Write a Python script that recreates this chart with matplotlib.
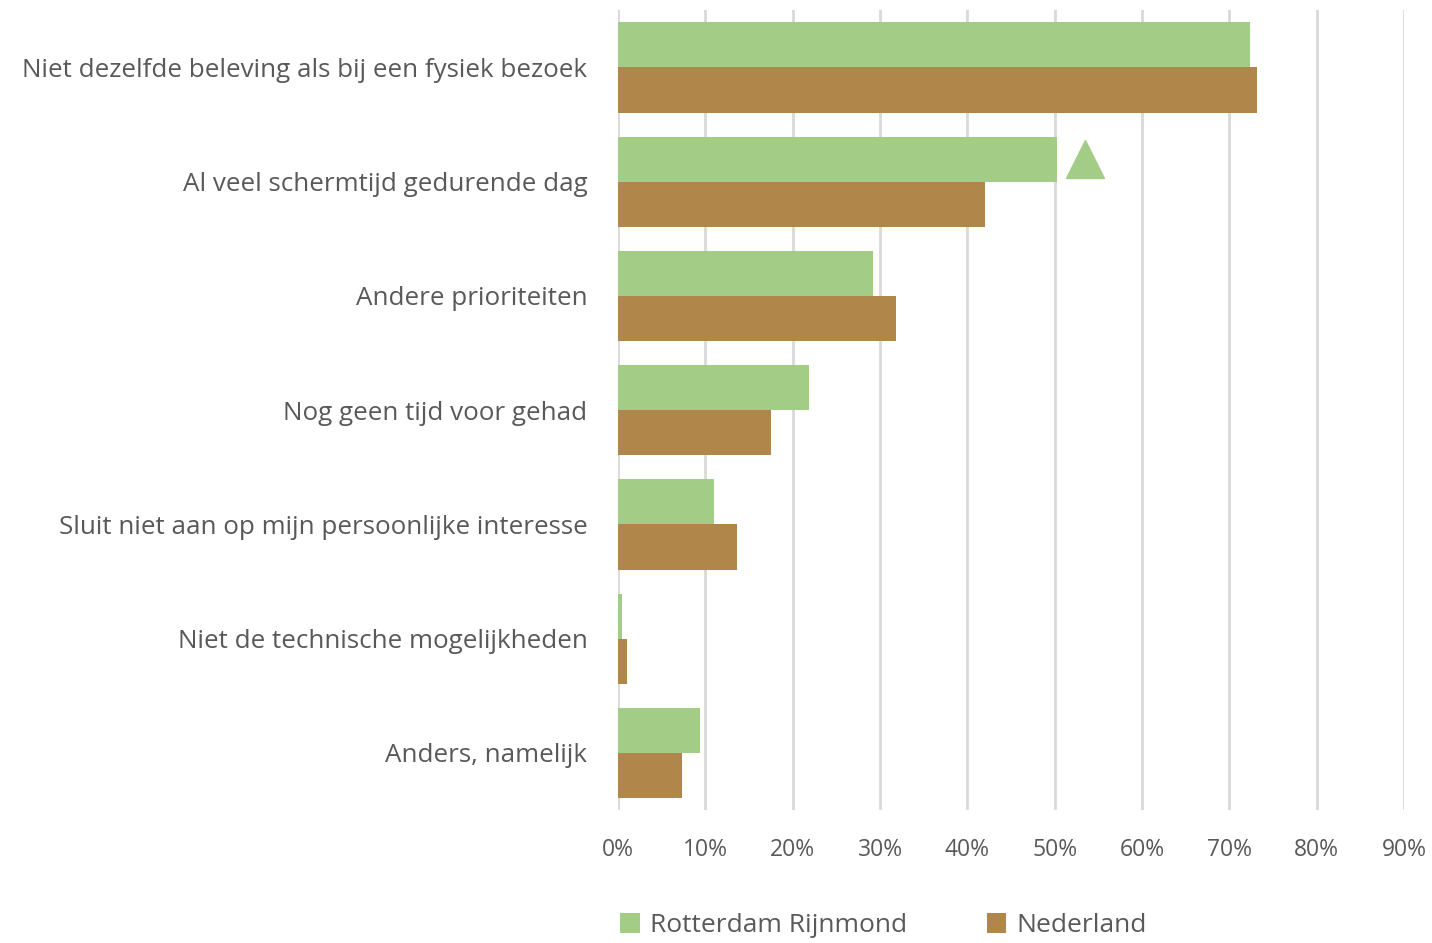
import matplotlib.pyplot as plt
import numpy as np

categories = ["Niet dezelfde beleving als bij een fysiek bezoek",
              "Al veel schermtijd gedurende dag",
              "Andere prioriteiten",
              "Nog geen tijd voor gehad",
              "Sluit niet aan op mijn persoonlijke interesse",
              "Niet de technische mogelijkheden",
              "Anders, namelijk"]
rotterdam = [72.4, 50.3, 29.2, 21.9, 11.0, 0.5, 9.4]
nederland = [73.2, 42.0, 31.8, 17.5, 13.6, 1.0, 7.3]
# significance marker (triangle) next to category 2
marker_cat = 1
marker_x = 53.5

green = "#A3CD86"
brown = "#B0864A"
txt = "#595959"

plt.rcParams['font.family'] = ['Open Sans', 'DejaVu Sans']

fig = plt.figure(figsize=(14.32, 9.43), dpi=100)
ax = fig.add_axes([0.4316, 0.141, 0.5488, 0.848])

y = np.arange(len(categories))
h = 0.395
ax.barh(y - h / 2, rotterdam, height=h, color=green, label="Rotterdam Rijnmond", zorder=3)
ax.barh(y + h / 2, nederland, height=h, color=brown, label="Nederland", zorder=3)
ax.plot(marker_x, y[marker_cat] - h / 2, marker="^", markersize=27, color=green,
        linestyle="none", zorder=4)

ax.set_xlim(0, 90)
ax.set_ylim(len(categories) - 0.5, -0.5)
ax.set_xticks(np.arange(0, 91, 10))
ax.set_xticklabels([f"{v}%" for v in range(0, 91, 10)])
ax.set_yticks(y)
ax.set_yticklabels(categories)
ax.xaxis.grid(True, color="#d9d9d9", linewidth=2, zorder=0)
for s in ax.spines.values():
    s.set_visible(False)
ax.tick_params(axis="both", length=0, colors=txt, labelsize=16.5)
ax.tick_params(axis="x", pad=20)
ax.tick_params(axis="y", pad=22, labelsize=18.7)

leg = fig.legend(loc="lower center", bbox_to_anchor=(0.617, -0.02), ncol=2, frameon=False,
                 fontsize=19, handlelength=0.75, handleheight=0.75, columnspacing=3.0,
                 handletextpad=0.4, labelcolor=txt)

fig.savefig("out.png", dpi=100)
